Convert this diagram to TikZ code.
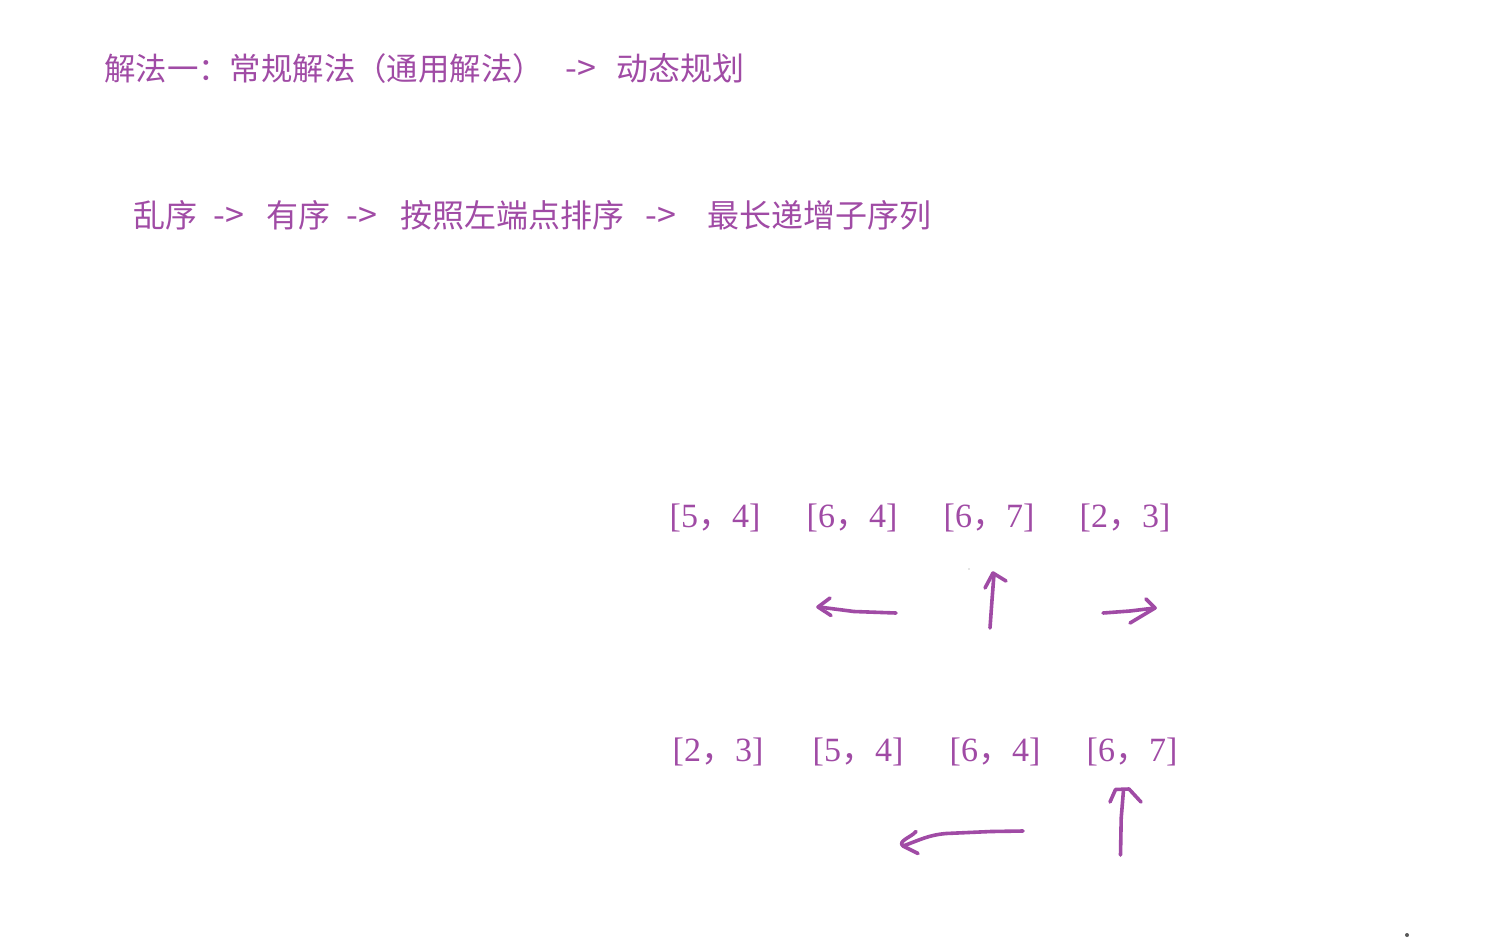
\documentclass[tikz,border=0pt]{standalone}
\usepackage{fontspec}
\newfontfamily\cjk{Noto Sans CJK SC}
\newfontfamily\pairfont{Liberation Serif}
\definecolor{ink}{RGB}{160,75,165}
\begin{document}
\begin{tikzpicture}[x=1pt,y=-1pt,
  txt/.style={text=ink, inner sep=0pt, anchor=base west, font=\cjk\fontsize{32}{36}\selectfont},
  ttl/.style={text=ink, inner sep=0pt, anchor=base west, font=\cjk\fontsize{31.4}{36}\selectfont},
  arr/.style={text=ink, inner sep=0pt, anchor=base west, font=\cjk\fontsize{34}{36}\selectfont},
  pair/.style={text=ink, inner sep=0pt, anchor=base, font=\pairfont\fontsize{34}{38}\selectfont},
  stroke/.style={draw=ink, line width=3.6pt, line cap=round, line join=round}]
\useasboundingbox[fill=white] (0,0) rectangle (1491,951);
% title
\node[ttl] (title) at (104,80) {解法一：常规解法（通用解法）};
\node[arr] (ta) at (565,80) {->};
\node[txt] (tb) at (616,80) {动态规划};
% second line
\node[txt] (s1) at (133,227) {乱序};
\node[arr] (a1) at (213,227) {->};
\node[txt] (s2) at (266,227) {有序};
\node[arr] (a2) at (346,227) {->};
\node[txt] (s3) at (400,227) {按照左端点排序};
\node[arr] (a3) at (645,227) {->};
\node[txt] (s4) at (707,227) {最长递增子序列};
% row 1
\node[pair] (p11) at (715,527) {[5{\cjk ，}4]};
\node[pair] (p12) at (852,527) {[6{\cjk ，}4]};
\node[pair] (p13) at (989,527) {[6{\cjk ，}7]};
\node[pair] (p14) at (1125,527) {[2{\cjk ，}3]};
% row 2
\node[pair] (p21) at (718,761) {[2{\cjk ，}3]};
\node[pair] (p22) at (858,761) {[5{\cjk ，}4]};
\node[pair] (p23) at (995,761) {[6{\cjk ，}4]};
\node[pair] (p24) at (1132,761) {[6{\cjk ，}7]};
% row 1 strokes
\draw[stroke] (896,613) -- (854,611.5) -- (819,607);
\draw[stroke] (830,598) -- (818,607) -- (831,615.5);
\draw[stroke] (990,628) -- (992,600) -- (994,574);
\draw[stroke] (985,588) -- (993,573) -- (1006,581);
\draw[stroke] (1103,613) -- (1130,611) -- (1155,608);
\draw[stroke] (1146,599) -- (1155,608) -- (1130,623);
% row 2 strokes
\draw[stroke] (1023,831) -- (991,831.5) -- (946,833.5) to[out=185,in=20] (903,846);
\draw[stroke] (916,831.5) to[out=230,in=140] (903,846) -- (918,853.5);
\draw[stroke] (1120.5,855) -- (1121.2,818) -- (1123.5,790);
\draw[stroke] (1110,802) -- (1115.5,789.5) -- (1129,789) -- (1141,802);
% specks
\fill[gray!40] (969,569) circle (0.8pt);
\fill[gray!70!black] (1407,935) circle (2pt);
\end{tikzpicture}
\end{document}
